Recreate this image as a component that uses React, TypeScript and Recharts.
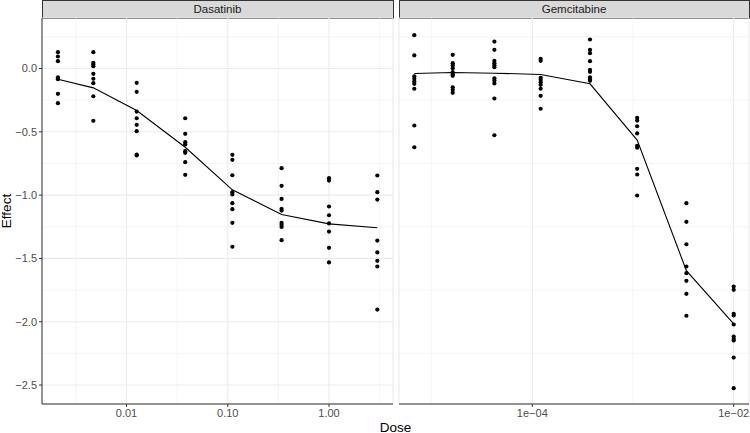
import React from 'react';
import {
  ComposedChart,
  Scatter,
  Line,
  XAxis,
  YAxis,
  CartesianGrid,
  ReferenceLine,
} from 'recharts';

// ---------- Data ----------
const drugNames = ['Dasatinib', 'Gemcitabine'];

const dasatinibDoses = [0.0021, 0.0047, 0.0126, 0.038, 0.111, 0.34, 1.0, 3.0];
const dasatinibEffects = [
  [0.129, 0.095, 0.058, -0.069, -0.084, -0.2, -0.274],
  [0.129, 0.045, 0.032, 0.018, -0.042, -0.081, -0.116, -0.219, -0.413],
  [-0.113, -0.184, -0.34, -0.393, -0.445, -0.495, -0.68, -0.687],
  [-0.393, -0.516, -0.582, -0.6, -0.653, -0.666, -0.74, -0.84],
  [-0.682, -0.721, -0.843, -0.977, -0.995, -1.064, -1.111, -1.219, -1.408],
  [-0.787, -0.927, -1.03, -1.108, -1.122, -1.219, -1.235, -1.251, -1.356],
  [-0.866, -0.885, -1.09, -1.159, -1.224, -1.288, -1.416, -1.532],
  [-0.845, -0.977, -1.035, -1.359, -1.453, -1.519, -1.564, -1.904],
];
const dasatinibFit = [-0.085, -0.153, -0.332, -0.622, -0.958, -1.153, -1.227, -1.258];

const gemcitabineDoses = [6.73e-6, 1.62e-5, 4.2e-5, 1.21e-4, 3.74e-4, 1.1e-3, 3.39e-3, 1.0e-2];
const gemcitabineEffects = [
  [0.263, 0.103, -0.061, -0.081, -0.103, -0.121, -0.16, -0.45, -0.622],
  [0.108, 0.042, 0.024, 0.002, -0.029, -0.047, -0.058, -0.148, -0.168, -0.192],
  [0.213, 0.148, 0.061, 0.042, 0.026, 0.01, -0.077, -0.095, -0.118, -0.237, -0.527],
  [0.077, 0.061, -0.073, -0.089, -0.108, -0.129, -0.16, -0.216, -0.318],
  [0.229, 0.148, 0.121, 0.058, -0.01, -0.026, -0.069, -0.087, -0.097],
  [-0.389, -0.411, -0.456, -0.513, -0.611, -0.626, -0.792, -0.837, -1.003],
  [-1.064, -1.211, -1.388, -1.564, -1.617, -1.677, -1.78, -1.953],
  [-1.722, -1.748, -1.938, -1.951, -2.022, -2.117, -2.135, -2.148, -2.283, -2.525],
];
const gemcitabineFit = [-0.039, -0.032, -0.037, -0.047, -0.121, -0.565, -1.597, -2.018];

const yTicks = [0, -0.5, -1, -1.5, -2, -2.5];
const yTickLabels = ['0.0', '\u22120.5', '\u22121.0', '\u22121.5', '\u22122.0', '\u22122.5'];
const yMinor = [0.25, -0.25, -0.75, -1.25, -1.75, -2.25];

const dasatinibXTicks = [0.01, 0.1, 1];
const dasatinibXTickLabels = ['0.01', '0.10', '1.00'];
const dasatinibXMinor = [10 ** -2.5, 10 ** -1.5, 10 ** -0.5, 10 ** 0.5];

const gemcitabineXTicks = [1e-4, 1e-2];
const gemcitabineXTickLabels = ['1e\u221204', '1e\u221202'];
const gemcitabineXMinor = [1e-5, 1e-3];

const xTitle = 'Dose';
const yTitle = 'Effect';

// ---------- Style ----------
const FONT = '"Liberation Sans", Arial, Helvetica, sans-serif';
const BORDER = '#333333';
const GRID = '#EBEBEB';
const TICK_TEXT = '#4D4D4D';
const Y_DOMAIN: [number, number] = [-2.65, 0.399];

type PanelProps = {
  left: number;
  plotWidth: number;
  title: string;
  doses: number[];
  effects: number[][];
  fit: number[];
  xDomain: [number, number];
  xTicks: number[];
  xTickLabels: string[];
  xMinor: number[];
  showY: boolean;
};

const Dot = (props: any) => {
  const { cx, cy } = props;
  if (cx == null || cy == null) return null;
  return <circle cx={cx} cy={cy} r={2.1} fill="#000000" />;
};

function Panel(p: PanelProps) {
  const yAxisWidth = p.showY ? 42 : 0;
  const marginLeft = p.showY ? 0 : 1;
  const chartWidth = marginLeft + yAxisWidth + p.plotWidth + 1;
  const chartHeight = 1 + 386 + 22;
  const points = p.doses.flatMap((d, i) => p.effects[i].map((e) => ({ dose: d, effect: e })));
  const fitLine = p.doses.map((d, i) => ({ dose: d, effect: p.fit[i] }));
  const stripLeft = p.showY ? p.left + yAxisWidth : p.left + 1;
  const fmtX = (v: number) => {
    const idx = p.xTicks.findIndex((t) => Math.abs(Math.log10(t) - Math.log10(v)) < 1e-6);
    return idx >= 0 ? p.xTickLabels[idx] : '';
  };
  const fmtY = (v: number) => {
    const idx = yTicks.findIndex((t) => Math.abs(t - v) < 1e-9);
    return idx >= 0 ? yTickLabels[idx] : '';
  };
  return (
    <>
      <div
        style={{
          position: 'absolute',
          left: stripLeft - 0.5,
          top: 0,
          width: p.plotWidth + 1,
          height: 18.5,
          boxSizing: 'border-box',
          background: '#D9D9D9',
          border: `1px solid ${BORDER}`,
          fontFamily: FONT,
          fontSize: 11.5,
          color: '#1A1A1A',
          textAlign: 'center',
          lineHeight: '16.5px',
        }}
      >
        {p.title}
      </div>
      <div style={{ position: 'absolute', left: p.left, top: 17 }}>
        <ComposedChart
          width={chartWidth}
          height={chartHeight}
          margin={{ top: 1, right: 1, bottom: 0, left: marginLeft }}
          style={{ fontFamily: FONT }}
        >
          <CartesianGrid stroke={GRID} strokeWidth={1.1} />
          {yMinor.map((v) => (
            <ReferenceLine key={'ym' + v} y={v} stroke={GRID} strokeWidth={0.55} />
          ))}
          {p.xMinor.map((v) => (
            <ReferenceLine key={'xm' + v} x={v} stroke={GRID} strokeWidth={0.55} />
          ))}
          <XAxis
            dataKey="dose"
            type="number"
            scale="log"
            domain={p.xDomain}
            allowDataOverflow
            ticks={p.xTicks}
            tickFormatter={fmtX}
            height={22}
            tickSize={3}
            tickMargin={2}
            axisLine={{ stroke: BORDER, strokeWidth: 1 }}
            tickLine={{ stroke: BORDER, strokeWidth: 1 }}
            tick={{ fill: TICK_TEXT, fontSize: 11, fontFamily: FONT }}
            interval={0}
          />
          <XAxis
            xAxisId="top"
            orientation="top"
            type="number"
            domain={[0, 1]}
            height={0}
            tick={false}
            tickLine={false}
            axisLine={{ stroke: BORDER, strokeWidth: 1 }}
          />
          <YAxis
            dataKey="effect"
            type="number"
            domain={Y_DOMAIN}
            allowDataOverflow
            ticks={yTicks}
            tickFormatter={fmtY}
            width={yAxisWidth}
            tickSize={3}
            tickMargin={2}
            tick={p.showY ? { fill: TICK_TEXT, fontSize: 11, fontFamily: FONT } : false}
            tickLine={p.showY ? { stroke: BORDER, strokeWidth: 1 } : false}
            axisLine={{ stroke: BORDER, strokeWidth: 1 }}
            interval={0}
          />
          <YAxis
            yAxisId="right"
            orientation="right"
            type="number"
            domain={[0, 1]}
            width={0}
            tick={false}
            tickLine={false}
            axisLine={{ stroke: BORDER, strokeWidth: 1 }}
          />
          <Line
            data={fitLine}
            dataKey="effect"
            type="linear"
            stroke="#000000"
            strokeWidth={1.1}
            dot={false}
            activeDot={false}
            isAnimationActive={false}
          />
          <Scatter data={points} dataKey="effect" shape={<Dot />} isAnimationActive={false} />
        </ComposedChart>
      </div>
    </>
  );
}

export default function App() {
  return (
    <div
      style={{
        position: 'absolute',
        left: 0,
        top: 0,
        width: 750,
        height: 433,
        background: '#FFFFFF',
        overflow: 'hidden',
        fontFamily: FONT,
      }}
    >
      <Panel
        left={0}
        plotWidth={351}
        title={drugNames[0]}
        doses={dasatinibDoses}
        effects={dasatinibEffects}
        fit={dasatinibFit}
        xDomain={[10 ** -2.835, 10 ** 0.632]}
        xTicks={dasatinibXTicks}
        xTickLabels={dasatinibXTickLabels}
        xMinor={dasatinibXMinor}
        showY={true}
      />
      <Panel
        left={398}
        plotWidth={350}
        title={drugNames[1]}
        doses={gemcitabineDoses}
        effects={gemcitabineEffects}
        fit={gemcitabineFit}
        xDomain={[10 ** -5.324, 10 ** -1.848]}
        xTicks={gemcitabineXTicks}
        xTickLabels={gemcitabineXTickLabels}
        xMinor={gemcitabineXMinor}
        showY={false}
      />
      <div
        style={{
          position: 'absolute',
          left: 395.5,
          top: 422.5,
          transform: 'translateX(-50%)',
          fontSize: 13.5,
          lineHeight: '10px',
          height: 10,
          color: '#000000',
          whiteSpace: 'nowrap',
        }}
      >
        {xTitle}
      </div>
      <div
        style={{
          position: 'absolute',
          left: 6,
          top: 211,
          transform: 'translate(-50%, -50%) rotate(-90deg)',
          fontSize: 13.5,
          color: '#000000',
          whiteSpace: 'nowrap',
        }}
      >
        {yTitle}
      </div>
    </div>
  );
}
